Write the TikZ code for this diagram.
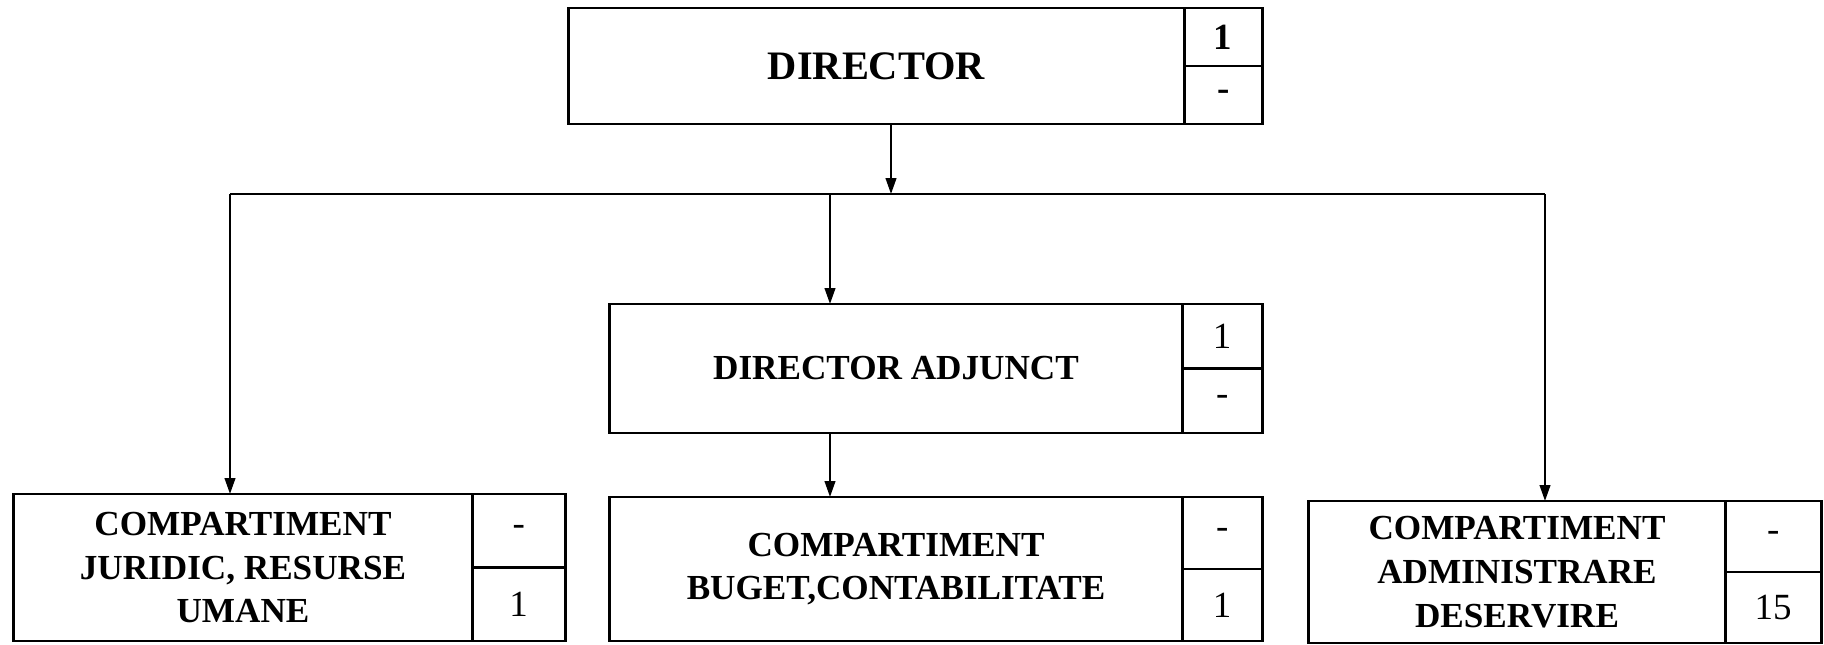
\documentclass[tikz,border=0pt]{standalone}
\usepackage{fontspec}
\setmainfont{Liberation Serif}
\usetikzlibrary{arrows.meta,positioning}

\begin{document}
\begin{tikzpicture}[x=0.01cm, y=-0.01cm,
  unitbox/.style={rectangle, draw, line width=0.8pt, inner sep=0pt, outer sep=0pt, align=center, font=\fontsize{10}{12.4}\selectfont\bfseries},
  cellbox/.style={rectangle, draw, line width=0.8pt, inner sep=0pt, outer sep=0pt, font=\fontsize{10.5}{12}\selectfont},
  arr/.style={line width=0.6pt, -{Triangle[length=4.5pt, width=3pt]}},
]
\useasboundingbox (0,0) rectangle (1824,644);

% DIRECTOR
\node[unitbox, minimum width=6.15cm, minimum height=1.16cm, font=\fontsize{11.5}{13}\selectfont\bfseries] (dir) at (876.5,66) {DIRECTOR};
\node[cellbox, minimum width=0.78cm, minimum height=0.58cm, anchor=north west, font=\fontsize{10.5}{12}\selectfont\bfseries] (dirA) at (dir.north east) {1};
\node[cellbox, minimum width=0.78cm, minimum height=0.58cm, below=0pt of dirA, font=\fontsize{10.5}{12}\selectfont\bfseries] (dirB) {-};

% DIRECTOR ADJUNCT
\node[unitbox, minimum width=5.72cm, minimum height=1.29cm] (adj) at (896,368.5) {DIRECTOR ADJUNCT};
\node[cellbox, minimum width=0.80cm, minimum height=0.645cm, anchor=north west] (adjA) at (adj.north east) {1};
\node[cellbox, minimum width=0.80cm, minimum height=0.645cm, below=0pt of adjA] (adjB) {-};

% compartimente
\node[unitbox, minimum width=4.58cm, minimum height=1.47cm] (jur) at (243,567.5) {COMPARTIMENT\\JURIDIC, RESURSE\\UMANE};
\node[cellbox, minimum width=0.93cm, minimum height=0.735cm, anchor=north west] (jurA) at (jur.north east) {-};
\node[cellbox, minimum width=0.93cm, minimum height=0.735cm, below=0pt of jurA] (jurB) {1};

\node[unitbox, minimum width=5.72cm, minimum height=1.44cm] (bug) at (896,569) {COMPARTIMENT\\BUGET,CONTABILITATE};
\node[cellbox, minimum width=0.80cm, minimum height=0.72cm, anchor=north west] (bugA) at (bug.north east) {-};
\node[cellbox, minimum width=0.80cm, minimum height=0.72cm, below=0pt of bugA] (bugB) {1};

\node[unitbox, minimum width=4.16cm, minimum height=1.42cm] (adm) at (1517,572) {COMPARTIMENT\\ADMINISTRARE\\DESERVIRE};
\node[cellbox, minimum width=0.96cm, minimum height=0.71cm, anchor=north west] (admA) at (adm.north east) {-};
\node[cellbox, minimum width=0.96cm, minimum height=0.71cm, below=0pt of admA] (admB) {15};

% legaturi
\coordinate (hub) at (891,194);
\coordinate (tapL) at (230,194);
\coordinate (tapM) at (830,194);
\coordinate (tapR) at (1545,194);

\draw[arr] (dir.south -| hub) -- (hub);
\draw[line width=0.6pt] (tapL) -- (tapR);
\draw[arr] (tapL) -- (tapL |- jur.north);
\draw[arr] (tapM) -- (tapM |- adj.north);
\draw[arr] (tapR) -- (tapR |- adm.north);
\draw[arr] (adj.south -| tapM) -- (bug.north -| tapM);

\end{tikzpicture}
\end{document}
